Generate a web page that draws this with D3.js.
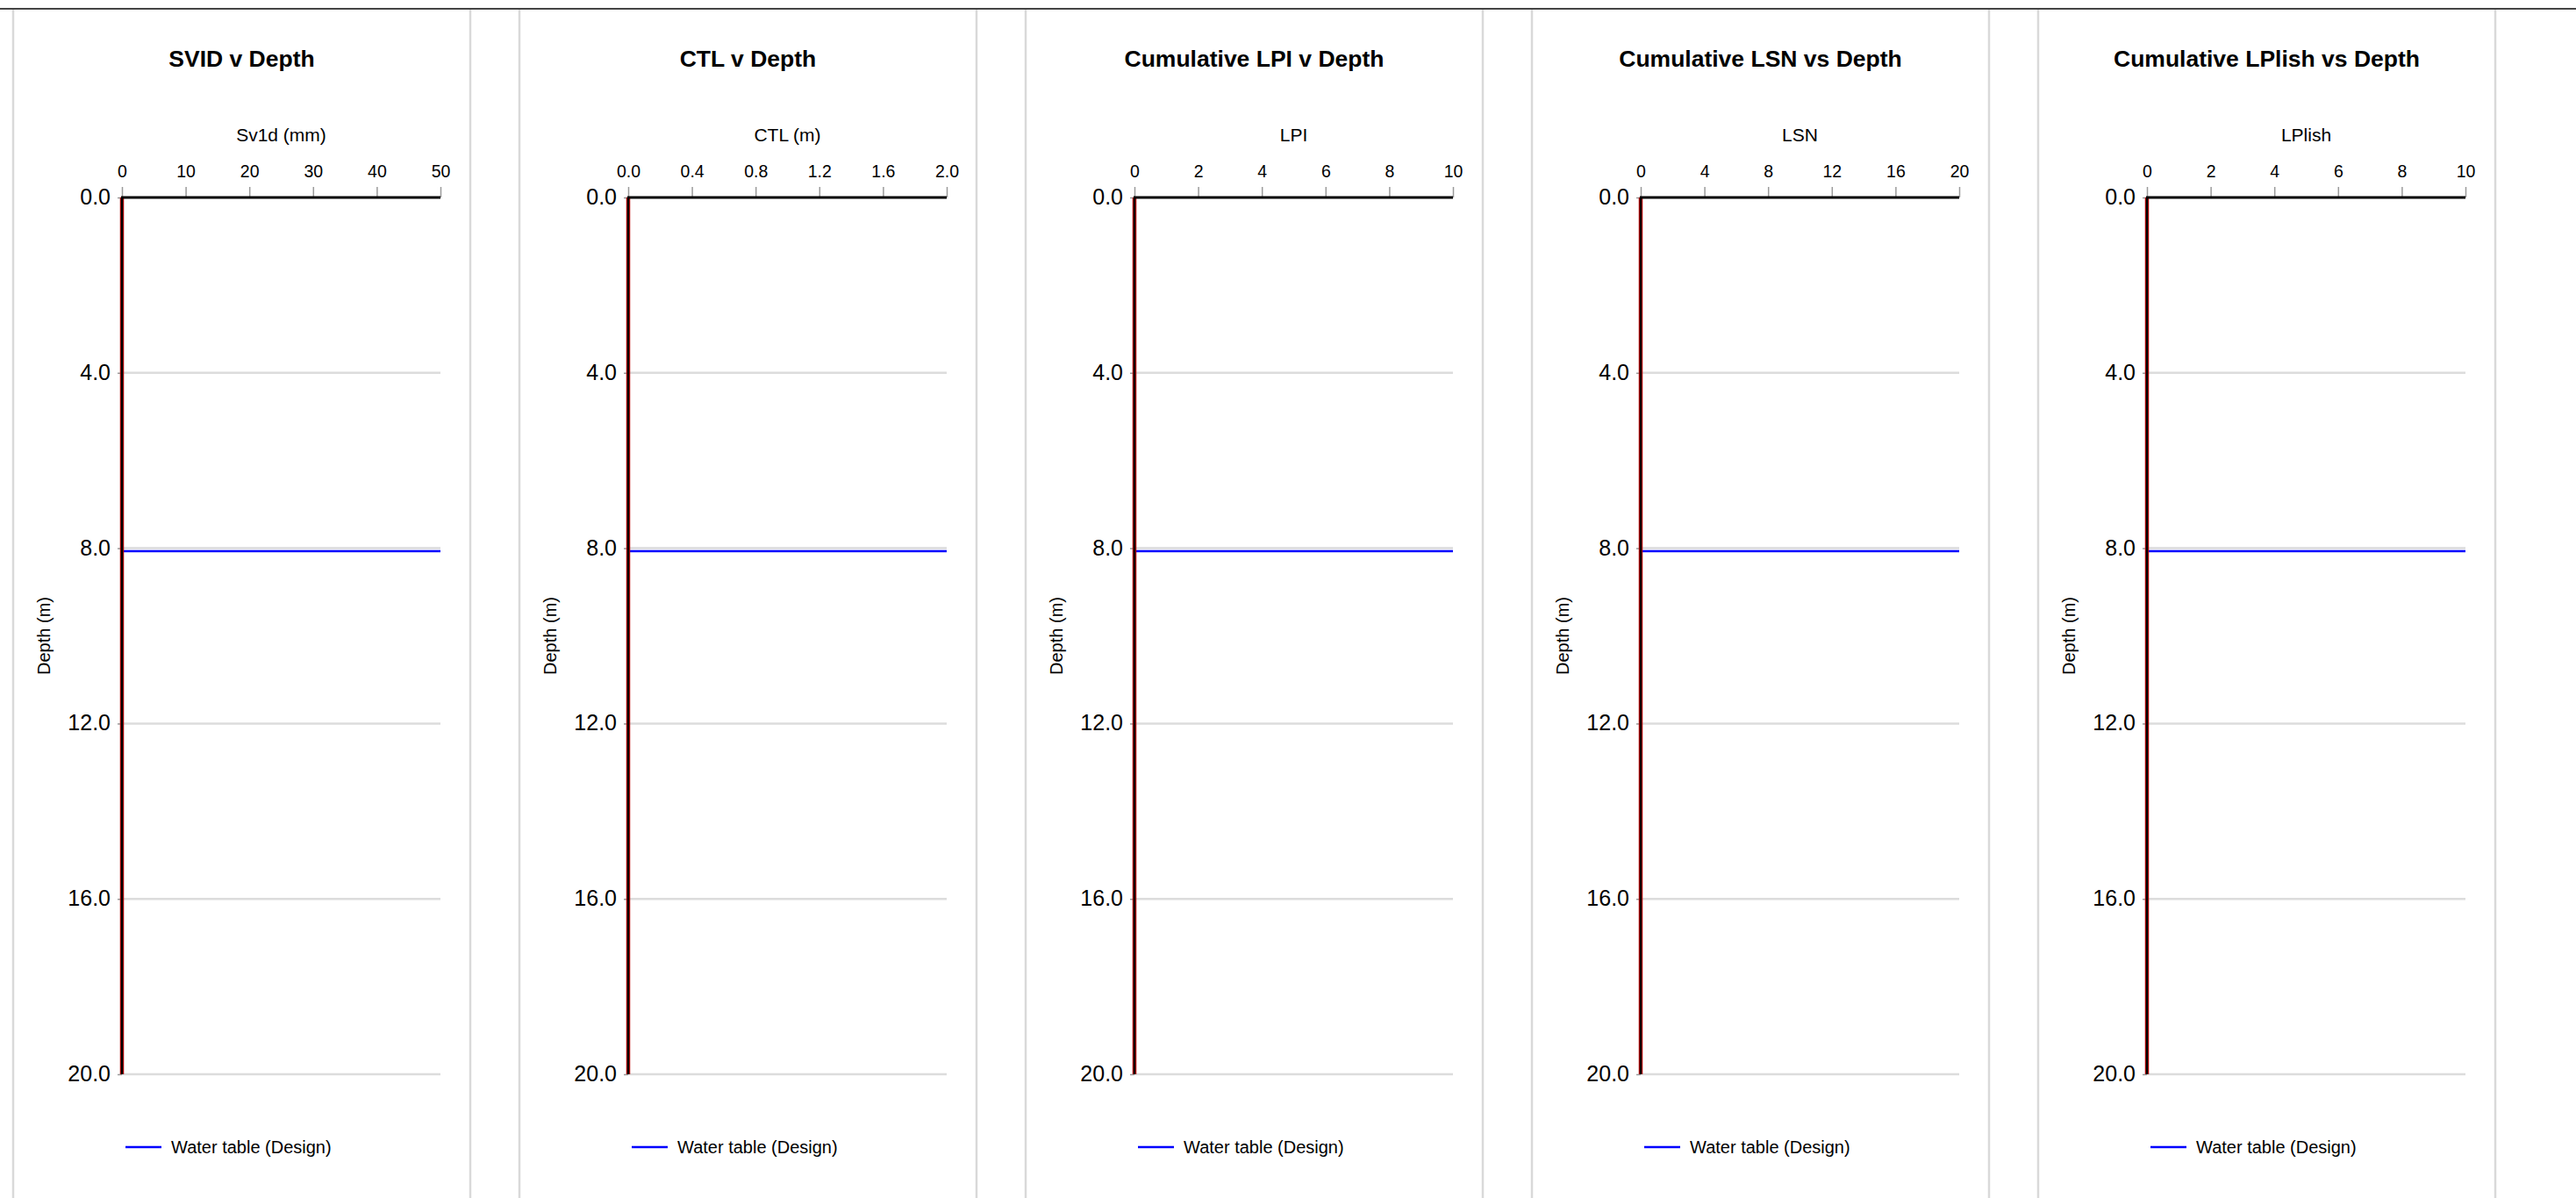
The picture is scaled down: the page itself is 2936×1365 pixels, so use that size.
<!DOCTYPE html>
<html>
<head>
<meta charset="utf-8">
<script src="https://cdn.jsdelivr.net/npm/d3@7"></script>
<style>
  html, body { margin: 0; padding: 0; background: #fff; }
  svg { display: block; font-family: "Liberation Sans", Arial, sans-serif; }
</style>
</head>
<body>
<svg id="chart" width="2936" height="1365"></svg>
<script>
// Panel definitions
const titles = ["SVID v Depth", "CTL v Depth", "Cumulative LPI v Depth", "Cumulative LSN vs Depth", "Cumulative LPlish vs Depth"];
const xLabels = ["Sv1d (mm)", "CTL (m)", "LPI", "LSN", "LPlish"];
const xMax = [50, 2.0, 10, 20, 10];
const xTicks = [
  [0, 10, 20, 30, 40, 50],
  [0, 0.4, 0.8, 1.2, 1.6, 2.0],
  [0, 2, 4, 6, 8, 10],
  [0, 4, 8, 12, 16, 20],
  [0, 2, 4, 6, 8, 10]
];
const xTickFormats = [".0f", ".1f", ".0f", ".0f", ".0f"];

// Depth axis
const depthTicks = [0, 4, 8, 12, 16, 20];
const depthMax = 20;

// Computed profile (zero throughout the depth range)
const profileDepth = [0, 20];
const profileValue = [0, 0];

// Design water table
const waterTableDepth = 8.07;
const legendLabel = "Water table (Design)";

const svg = d3.select("#chart");
const W = 2936, H = 1365;
const FONT = "Liberation Sans, Arial, sans-serif";

// Layout
const panelLeft0 = 15, panelStride = 577, panelWidth = 521;
const axisOffset = 124, axisWidth = 363;
const plotTop = 225, plotBottom = 1224;

const y = d3.scaleLinear().domain([0, depthMax]).range([plotTop, plotBottom]);

titles.forEach((title, i) => {
  const px = panelLeft0 + i * panelStride;
  const g = svg.append("g");

  // panel frame
  g.append("line").attr("x1", px).attr("x2", px).attr("y1", 11).attr("y2", H)
    .attr("stroke", "#d9d9d9").attr("stroke-width", 2.5);
  g.append("line").attr("x1", px + panelWidth).attr("x2", px + panelWidth).attr("y1", 11).attr("y2", H)
    .attr("stroke", "#d9d9d9").attr("stroke-width", 2.5);

  const x0 = px + axisOffset;
  const x = d3.scaleLinear().domain([0, xMax[i]]).range([x0, x0 + axisWidth]);

  // title
  g.append("text").attr("x", px + panelWidth / 2).attr("y", 76)
    .attr("text-anchor", "middle").attr("font-size", 26.5).attr("font-weight", "bold")
    .attr("fill", "#000").text(title);

  // x axis label
  g.append("text").attr("x", x0 + axisWidth / 2).attr("y", 161)
    .attr("text-anchor", "middle").attr("font-size", 21).attr("fill", "#000").text(xLabels[i]);

  // gridlines
  g.append("g").selectAll("line").data(depthTicks.filter(d => d > 0)).join("line")
    .attr("x1", x(0)).attr("x2", x(xMax[i]))
    .attr("y1", d => y(d)).attr("y2", d => y(d))
    .attr("stroke", "#dcdcdc").attr("stroke-width", 2.5);

  // water table
  g.append("line").attr("x1", x(0)).attr("x2", x(xMax[i]))
    .attr("y1", y(waterTableDepth)).attr("y2", y(waterTableDepth))
    .attr("stroke", "#0000ff").attr("stroke-width", 2.5);

  // top axis
  const xAxis = d3.axisTop(x).tickValues(xTicks[i]).tickSize(12).tickSizeOuter(0)
    .tickPadding(11).tickFormat(d3.format(xTickFormats[i]));
  const ax = g.append("g").attr("transform", `translate(0,${plotTop})`).call(xAxis);
  ax.select(".domain").remove();
  ax.selectAll(".tick line").attr("stroke", "#9a9a9a").attr("stroke-width", 1.5);
  ax.selectAll(".tick text").attr("font-size", 19.5).attr("fill", "#000")
    .attr("font-family", FONT);

  // left axis
  const yAxis = d3.axisLeft(y).tickValues(depthTicks).tickSize(5).tickSizeOuter(0)
    .tickPadding(8).tickFormat(d3.format(".1f"));
  const ay = g.append("g").attr("transform", `translate(${x0},0)`).call(yAxis);
  ay.select(".domain").remove();
  ay.selectAll(".tick line").attr("stroke", "#9a9a9a").attr("stroke-width", 1.5);
  ay.selectAll(".tick text").attr("font-size", 25).attr("fill", "#000").attr("dy", "0.3em")
    .attr("font-family", FONT);

  // computed profile
  const line = d3.line().x((d, k) => x(profileValue[k])).y(d => y(d));
  g.append("path").datum(profileDepth).attr("d", line)
    .attr("fill", "none").attr("stroke", "#b00000").attr("stroke-width", 4.5);

  // axis lines
  g.append("line").attr("x1", x(0)).attr("x2", x(0)).attr("y1", y(0)).attr("y2", y(depthMax))
    .attr("stroke", "#000").attr("stroke-width", 2.2);
  g.append("line").attr("x1", x(0) - 1).attr("x2", x(xMax[i])).attr("y1", y(0)).attr("y2", y(0))
    .attr("stroke", "#000").attr("stroke-width", 3);

  // depth label
  g.append("text").attr("transform", `translate(${px + 35},${(plotTop + plotBottom) / 2}) rotate(-90)`)
    .attr("text-anchor", "middle").attr("dy", "0.35em").attr("font-size", 20).attr("fill", "#000")
    .text("Depth (m)");

  // legend
  g.append("line").attr("x1", px + 128).attr("x2", px + 169).attr("y1", 1307).attr("y2", 1307)
    .attr("stroke", "#0000ff").attr("stroke-width", 2.5);
  g.append("text").attr("x", px + 180).attr("y", 1314)
    .attr("font-size", 20).attr("fill", "#000").text(legendLabel);
});

// top rule
svg.append("line").attr("x1", 0).attr("x2", W).attr("y1", 10).attr("y2", 10)
  .attr("stroke", "#444").attr("stroke-width", 2);
</script>
</body>
</html>
